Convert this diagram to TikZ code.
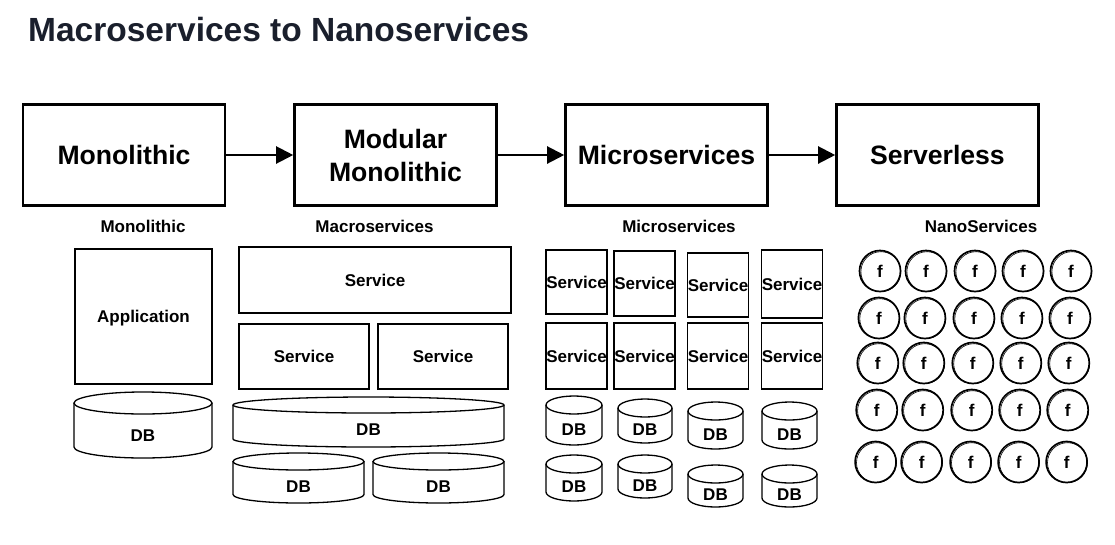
\documentclass[tikz,border=0pt]{standalone}
\usepackage{fontspec}
\setmainfont{Liberation Sans}
\usetikzlibrary{arrows.meta}
\definecolor{titlecol}{RGB}{26,31,44}
\newcommand{\dbcyl}[6]{%
 \pgfmathsetmacro{\dbcx}{(#2+#4)/2}%
 \pgfmathsetmacro{\dbrx}{(#4-#2)/2}%
 \pgfmathsetmacro{\dbk}{0.5523*#6}%
 \pgfmathsetmacro{\dbkx}{0.5523*\dbrx}%
 \pgfmathsetmacro{\dbt}{#3+#6}%
 \pgfmathsetmacro{\dbb}{#5-#6}%
 \draw[dbline] (\dbcx,\dbt) ellipse [x radius=\dbrx pt, y radius=#6 pt];
 \draw[dbline] (#2,\dbt) -- (#2,\dbb) .. controls (#2,{\dbb+\dbk}) and ({\dbcx-\dbkx},#5) .. (\dbcx,#5) .. controls ({\dbcx+\dbkx},#5) and (#4,{\dbb+\dbk}) .. (#4,\dbb) -- (#4,\dbt);
 \node[dbtext] (#1) at (\dbcx,{(#3+2*#6+#5)/2}) {DB};
}
\begin{document}
\begin{tikzpicture}[x=1pt,y=-1pt,
  stage/.style={draw, line width=2.6pt, minimum width=202pt, minimum height=101pt, inner sep=0pt, font=\fontsize{26.6}{33}\selectfont\bfseries, align=center},
  arr/.style={line width=2.2pt, -{Triangle[length=17pt,width=17pt]}},
  lab/.style={font=\fontsize{17}{20}\selectfont\bfseries, inner sep=0pt},
  box/.style={draw, line width=1.3pt, inner sep=0pt, font=\fontsize{17}{20}\selectfont\bfseries},
  dbline/.style={line width=1.3pt},
  dbtext/.style={font=\fontsize{17}{20}\selectfont\bfseries, inner sep=0pt},
  fc/.style={draw, circle, line width=1.7pt, minimum size=41pt, inner sep=0pt, font=\fontsize{17}{20}\selectfont\bfseries}
]
\useasboundingbox (0,0) rectangle (1115,544);
\fill[white] (0,0) rectangle (1115,544);

\node[anchor=base west, font=\fontsize{33.5}{40}\selectfont\bfseries, text=titlecol, inner sep=0pt] (title) at (28,41) {Macroservices to Nanoservices};

% stages
\node[stage] (s1) at (124,155) {Monolithic};
\node[stage] (s2) at (395.5,155) {Modular\\Monolithic};
\node[stage] (s3) at (666.5,155) {Microservices};
\node[stage] (s4) at (937.5,155) {Serverless};
\draw[arr] (s1) -- (s2);
\draw[arr] (s2) -- (s3);
\draw[arr] (s3) -- (s4);

% column labels
\node[lab] (l1) at (143,226) {Monolithic};
\node[lab] (l2) at (374.5,226) {Macroservices};
\node[lab] (l3) at (679,226) {Microservices};
\node[lab] (l4) at (981,226) {NanoServices};

% monolithic
\node[box, minimum width=137pt, minimum height=135pt, text depth=0pt] (app) at (143.5,316.5) {Application};
\dbcyl{dbm}{74}{392}{212}{458}{11}

% macroservices
\node[box, minimum width=272pt, minimum height=66pt] (ms1) at (375,280) {Service};
\node[box, minimum width=130pt, minimum height=65pt] (ms2) at (304,356.5) {Service};
\node[box, minimum width=130pt, minimum height=65pt] (ms3) at (443,356.5) {Service};
\dbcyl{dbM}{233}{397}{504}{447}{8}
\dbcyl{dbMa}{233}{453}{364}{503}{8.5}
\dbcyl{dbMb}{373}{453}{504}{503}{8.5}

% microservices
\node[box, minimum width=61pt, minimum height=64pt] (mi11) at (576.5,282) {Service};
\node[box, minimum width=61pt, minimum height=65pt] (mi12) at (644.5,283.5) {Service};
\node[box, minimum width=60pt, minimum height=64pt] (mi13) at (718,285) {Service};
\node[box, minimum width=60pt, minimum height=68pt] (mi14) at (792,284) {Service};
\node[box, minimum width=61pt, minimum height=66pt] (mi21) at (576.5,356) {Service};
\node[box, minimum width=61pt, minimum height=66pt] (mi22) at (644.5,356) {Service};
\node[box, minimum width=60pt, minimum height=66pt] (mi23) at (718,356) {Service};
\node[box, minimum width=60pt, minimum height=66pt] (mi24) at (792,356) {Service};
\dbcyl{dbu11}{546}{396}{602}{445}{9}
\dbcyl{dbu12}{618}{399}{672}{443}{9}
\dbcyl{dbu13}{688}{402}{743}{449}{9}
\dbcyl{dbu14}{762}{402}{817}{449}{9}
\dbcyl{dbu21}{546}{455}{602}{501}{9}
\dbcyl{dbu22}{618}{455}{672}{498}{9}
\dbcyl{dbu23}{688}{465}{743}{507}{9}
\dbcyl{dbu24}{762}{465}{817}{507}{9}

% nanoservices
\foreach \r/\yy in {1/271,2/318,3/363,4/410,5/462}{
  \foreach \c/\xx in {1/880,2/926,3/975,4/1023,5/1071}{
    \node[fc] (f\r\c) at ({\xx-(\r-1)*1.1},\yy) {f};
    \draw[line width=0.6pt] ([shift={(0.9,0.7)}]f\r\c.center) circle [radius=20pt];
  }
}
\end{tikzpicture}
\end{document}
